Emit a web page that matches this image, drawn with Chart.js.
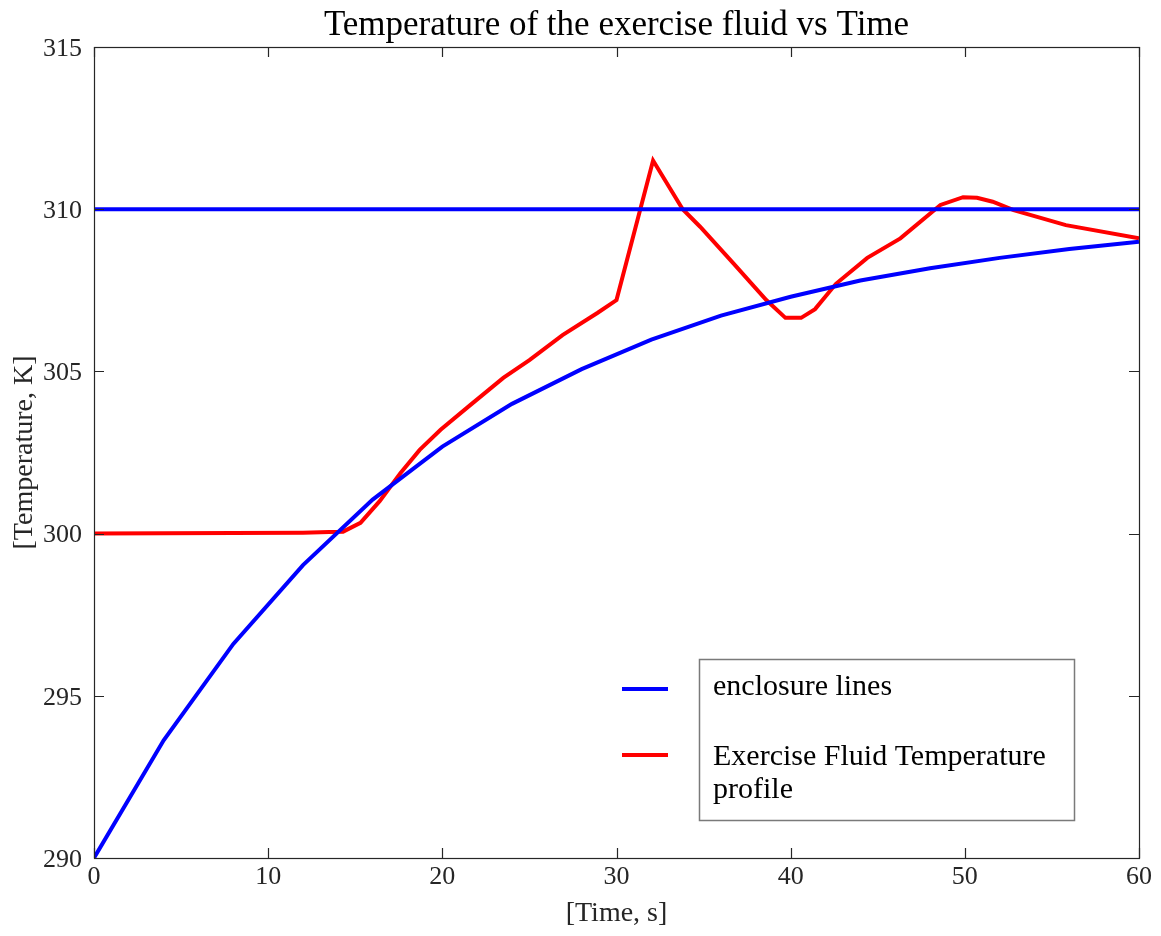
<!DOCTYPE html>
<html>
<head>
<meta charset="utf-8">
<script src="https://cdn.jsdelivr.net/npm/chart.js@4.4.1/dist/chart.umd.min.js"></script>
<style>
  html, body { margin: 0; padding: 0; background: #fff; }
</style>
</head>
<body>
<canvas id="graficoTemp" width="1161" height="936"></canvas>
<script>
// Dados
const tempoEnvelope = [0, 4, 8, 12, 16, 20, 24, 28, 32, 36, 40, 44, 48, 52, 56, 60];
const envelopeInferior = [290, 293.63, 296.6, 299.03, 301.05, 302.68, 304.0, 305.07, 305.98, 306.72, 307.3, 307.8, 308.18, 308.5, 308.77, 309.0];

const tempoLimite = [0, 60];
const limiteSuperior = [310, 310];

const tempoFluido = [0, 4, 8, 12, 13.5, 14.3, 15.3, 16.4, 17.6, 18.7, 19.9, 21.6, 23.5, 25, 26.9, 28.9, 30,
  32.1, 33.8, 34.8, 36.7, 38.6, 39.7, 40.6, 41.4, 42.6, 44.4, 46.3, 48.6, 49.9, 50.7, 51.6, 52.8, 55.8, 60];
const tempFluido = [300, 300.01, 300.02, 300.03, 300.05, 300.06, 300.33, 301.0, 301.87, 302.58, 303.2, 303.96, 304.8, 305.35, 306.12, 306.8, 307.2,
  311.5, 310.0, 309.46, 308.34, 307.2, 306.65, 306.65, 306.92, 307.7, 308.5, 309.1, 310.13, 310.37, 310.35, 310.23, 309.97, 309.51, 309.1];

const rotuloEnvelope = 'enclosure lines';
const rotuloFluido = 'Exercise Fluid Temperature profile';

const pontos = (xs, ys) => xs.map((x, i) => ({ x: x, y: ys[i] }));

Chart.defaults.font.family = '"Liberation Serif", "Times New Roman", serif';
Chart.defaults.color = '#262626';

// Caixa do eixo com marcas para dentro (estilo MATLAB)
const caixaEixos = {
  id: 'caixaEixos',
  afterDatasetsDraw(chart) {
    const { ctx, chartArea: a, scales } = chart;
    const tam = 10;
    ctx.save();
    ctx.strokeStyle = '#262626';
    ctx.lineWidth = 1.2;
    ctx.beginPath();
    scales.x.ticks.forEach(t => {
      const px = Math.round(scales.x.getPixelForValue(t.value)) + 0.5;
      ctx.moveTo(px, a.bottom); ctx.lineTo(px, a.bottom - tam);
      ctx.moveTo(px, a.top); ctx.lineTo(px, a.top + tam);
    });
    scales.y.ticks.forEach(t => {
      const py = Math.round(scales.y.getPixelForValue(t.value)) + 0.5;
      ctx.moveTo(a.left, py); ctx.lineTo(a.left + tam, py);
      ctx.moveTo(a.right, py); ctx.lineTo(a.right - tam, py);
    });
    ctx.stroke();
    ctx.strokeRect(a.left + 0.5, a.top + 0.5, a.right - a.left, a.bottom - a.top);
    ctx.restore();
  }
};

// Legenda: amostras de linha fora da caixa, texto dentro
const legendaCaixa = {
  id: 'legendaCaixa',
  afterDraw(chart, args, opts) {
    const { ctx } = chart;
    ctx.save();
    ctx.strokeStyle = '#7a7a7a';
    ctx.lineWidth = 1.5;
    ctx.strokeRect(opts.box[0], opts.box[1], opts.box[2], opts.box[3]);
    ctx.font = '30px "Liberation Serif", "Times New Roman", serif';
    ctx.fillStyle = '#000';
    ctx.textBaseline = 'alphabetic';
    const itens = chart.data.datasets.filter(d => d.naLegenda);
    itens.forEach((d, i) => {
      const base = opts.baselines[i];
      ctx.strokeStyle = d.borderColor;
      ctx.lineWidth = 4;
      ctx.beginPath();
      ctx.moveTo(opts.amostraX[0], opts.amostraY[i]);
      ctx.lineTo(opts.amostraX[1], opts.amostraY[i]);
      ctx.stroke();
      // quebra de linha simples
      const palavras = d.label.split(' ');
      let linha = '', linhas = [];
      palavras.forEach(p => {
        const teste = linha ? linha + ' ' + p : p;
        if (ctx.measureText(teste).width > opts.larguraMax && linha) { linhas.push(linha); linha = p; }
        else linha = teste;
      });
      linhas.push(linha);
      linhas.forEach((l, j) => ctx.fillText(l, opts.textoX, base + j * 33));
    });
    ctx.restore();
  }
};

const ctx = document.getElementById('graficoTemp').getContext('2d');
new Chart(ctx, {
  type: 'line',
  data: {
    datasets: [
      { label: rotuloEnvelope, data: pontos(tempoLimite, limiteSuperior), borderColor: '#0000ff', borderWidth: 4, pointRadius: 0, naLegenda: true },
      { label: rotuloEnvelope, data: pontos(tempoEnvelope, envelopeInferior), borderColor: '#0000ff', borderWidth: 4, pointRadius: 0 },
      { label: rotuloFluido, data: pontos(tempoFluido, tempFluido), borderColor: '#ff0000', borderWidth: 4, pointRadius: 0, naLegenda: true }
    ]
  },
  options: {
    responsive: false,
    devicePixelRatio: 1,
    animation: false,
    layout: { padding: { left: 0, right: 22, top: 0, bottom: 0 } },
    plugins: {
      legend: { display: false },
      tooltip: { enabled: false },
      title: {
        display: true,
        fullSize: false,
        text: 'Temperature of the exercise fluid vs Time',
        color: '#000',
        font: { size: 35, weight: 'normal' },
        padding: { top: 5, bottom: 0 }
      },
      legendaCaixa: {
        box: [699.5, 659.5, 375, 161],
        amostraX: [622, 668],
        amostraY: [689, 755],
        baselines: [695, 765],
        textoX: 713,
        larguraMax: 345
      }
    },
    scales: {
      x: {
        type: 'linear',
        min: 0, max: 60,
        ticks: { stepSize: 10, padding: 4, font: { size: 26 }, maxRotation: 0 },
        grid: { display: false, drawTicks: false },
        border: { display: false },
        title: { display: true, text: '[Time, s]', color: '#262626', font: { size: 28 }, padding: { top: 4, bottom: 6 } },
        afterFit: s => { s.height = 78; }
      },
      y: {
        min: 290, max: 315,
        ticks: { stepSize: 5, padding: 12, labelOffset: 2, font: { size: 26 } },
        grid: { display: false, drawTicks: false },
        border: { display: false },
        title: { display: true, text: '[Temperature, K]', color: '#262626', font: { size: 28 }, padding: { top: 8, bottom: 0 } },
        afterFit: s => { s.width = 94; }
      }
    }
  },
  plugins: [caixaEixos, legendaCaixa]
});
</script>
</body>
</html>
